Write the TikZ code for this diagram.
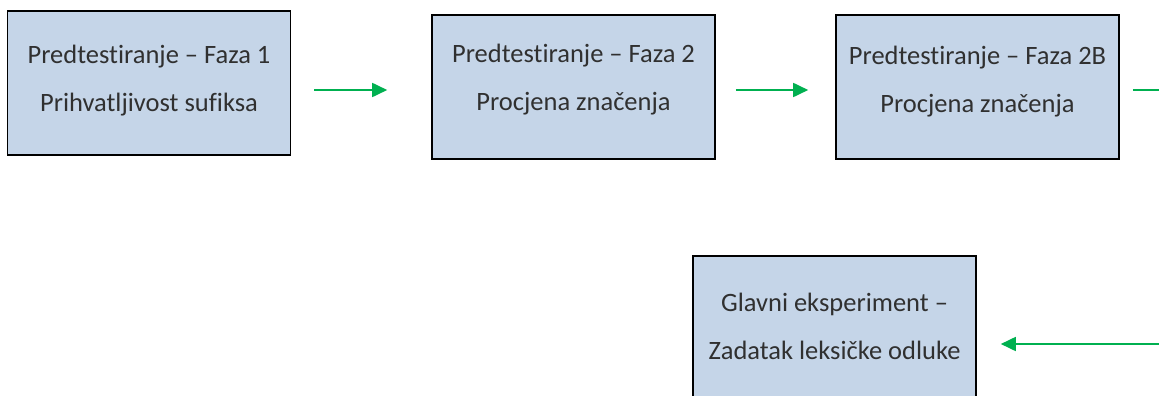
\documentclass[tikz,border=0pt]{standalone}
\usepackage{fontspec}
\setmainfont{Carlito}[Ligatures=NoCommon]
\usetikzlibrary{arrows.meta,calc}
\definecolor{boxfill}{HTML}{C5D5E8}
\definecolor{arrgreen}{HTML}{00B050}
\definecolor{txt}{HTML}{303030}
\begin{document}
\begin{tikzpicture}[x=1pt,y=-1pt,
  stage/.style={draw=black, line width=1.6pt, fill=boxfill, minimum width=283pt, minimum height=144pt,
    align=center, text=txt, font=\fontsize{26.5}{48}\selectfont, inner sep=0pt},
  lift/.style={text depth=#1},
  flow/.style={draw=arrgreen, line width=1.8pt, -{Triangle[length=15pt,width=14pt]}},
  flowend/.style={draw=arrgreen, line width=1.8pt}]
\useasboundingbox (0,0) rectangle (1159,396);
\node[stage, lift=9.5pt] (b1) at (149,83) {Predtestiranje -- Faza 1\\Prihvatljivost sufiksa};
\node[stage, lift=19.5pt] (b2) at (573.5,87) {Predtestiranje -- Faza 2\\Procjena značenja};
\node[stage, lift=15.5pt] (b3) at (977.5,87) {Predtestiranje -- Faza 2B\\Procjena značenja};
\node[stage, lift=4pt] (b4) at (834.5,328) {Glavni eksperiment --\\Zadatak leksičke odluke};
\coordinate (r3) at (1162,90);
\coordinate (r4) at (1162,344);
\draw[flow] ($(b1.east)+(23,7)$) -- ($(b2.west)+(-44,3)$);
\draw[flow] ($(b2.east)+(20,3)$) -- ($(b3.west)+(-27,3)$);
\draw[flowend] ($(b3.east)+(13,3)$) -- (r3);
\draw[flow] (r4) -- ($(b4.east)+(24,16)$);
\end{tikzpicture}
\end{document}
